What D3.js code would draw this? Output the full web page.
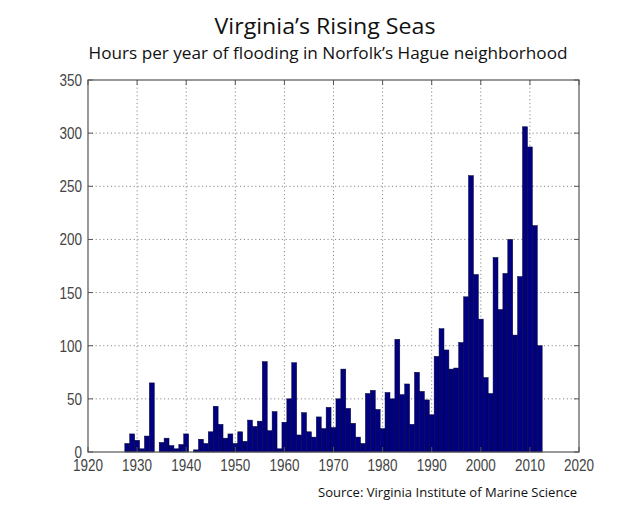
<!DOCTYPE html>
<html>
<head>
<meta charset="utf-8">
<script src="https://d3js.org/d3.v7.min.js"></script>
<style>
  body { margin: 0; background: #fff; }
  svg { display: block; background: #fff; }
  .tick-label { font-family: "Liberation Sans Narrow", "Arial Narrow", "Liberation Sans", Arial, sans-serif; font-size: 16px; fill: #444; }
  .head { font-family: "Open Sans", "Noto Sans", sans-serif; fill: #111; }
</style>
</head>
<body>
<svg id="svg" width="640" height="512"></svg>
<script>
// flooding hours per year, Norfolk Hague
var years = d3.range(1928, 2013);
var hours = [
  8, 17, 11, 3, 15, 65, 0, 9, 13, 6, 3, 7,          // 1928-1939
  17, 0, 2, 12, 8, 19, 43, 26, 13, 17,              // 1940s
  8, 19, 10, 30, 24, 29, 85, 20, 38, 3,             // 1950s
  28, 50, 84, 16, 37, 19, 14, 33, 22, 42,           // 1960s
  23, 50, 78, 41, 27, 14, 8, 55, 58, 40,            // 1970s
  22, 56, 50, 106, 54, 64, 26, 75, 57, 49,          // 1980s
  35, 90, 116, 96, 78, 79, 103, 146, 260, 167,      // 1990s
  125, 70, 55, 183, 134, 168, 200, 110, 165, 306,   // 2000s
  287, 213, 100                                     // 2010-2012
];
var xTicks = d3.range(1920, 2021, 10);
var yTicks = d3.range(0, 351, 50);

var titleText = "Virginia\u2019s Rising Seas";
var subtitleText = "Hours per year of flooding in Norfolk\u2019s Hague neighborhood";
var sourceText = "Source: Virginia Institute of Marine Science";

(function() {
  var svg = d3.select("svg");
  var left = 88, right = 579, plotTop = 80, bottom = 452;

  var x = d3.scaleLinear().domain([1920, 2020]).range([left, right]);
  var y = d3.scaleLinear().domain([0, 350]).range([bottom, plotTop]);

  // grid
  var grid = svg.append("g").attr("stroke", "#8a8a8a").attr("stroke-width", 1)
    .attr("stroke-dasharray", "1.2,2.6");
  grid.selectAll(".gx").data(xTicks.slice(1, -1)).enter().append("line")
    .attr("x1", d => x(d)).attr("x2", d => x(d)).attr("y1", plotTop).attr("y2", bottom);
  grid.selectAll(".gy").data(yTicks.slice(1, -1)).enter().append("line")
    .attr("x1", left).attr("x2", right).attr("y1", d => y(d)).attr("y2", d => y(d));

  // bars
  var data = years.map(function(yr, i) { return {year: yr, value: hours[i]}; });
  svg.append("g").selectAll("rect").data(data.filter(d => d.value > 0)).enter().append("rect")
    .attr("x", d => x(d.year - 0.5))
    .attr("width", d => x(d.year + 0.5) - x(d.year - 0.5))
    .attr("y", d => y(d.value))
    .attr("height", d => y(0) - y(d.value))
    .attr("fill", "#000080")
    .attr("stroke", "#000030")
    .attr("stroke-width", 0.5);

  // frame and inner ticks
  var frame = svg.append("g").attr("stroke", "#555").attr("fill", "none");
  frame.append("rect").attr("x", left).attr("y", plotTop)
    .attr("width", right - left).attr("height", bottom - plotTop).attr("stroke-width", 1.2);
  var tk = 5;
  xTicks.forEach(function(t) {
    frame.append("line").attr("x1", x(t)).attr("x2", x(t)).attr("y1", bottom).attr("y2", bottom - tk);
    frame.append("line").attr("x1", x(t)).attr("x2", x(t)).attr("y1", plotTop).attr("y2", plotTop + tk);
  });
  yTicks.forEach(function(t) {
    frame.append("line").attr("x1", left).attr("x2", left + tk).attr("y1", y(t)).attr("y2", y(t));
    frame.append("line").attr("x1", right).attr("x2", right - tk).attr("y1", y(t)).attr("y2", y(t));
  });

  // tick labels (narrow, MATLAB-like)
  var digitW = 7.5;
  svg.append("g").selectAll("text").data(xTicks).enter().append("text")
    .attr("class", "tick-label")
    .attr("x", d => x(d)).attr("y", bottom + 19)
    .attr("text-anchor", "middle")
    .attr("textLength", d => String(d).length * digitW).attr("lengthAdjust", "spacingAndGlyphs")
    .text(d => d);
  svg.append("g").selectAll("text").data(yTicks).enter().append("text")
    .attr("class", "tick-label")
    .attr("x", left - 6).attr("y", d => y(d) + 6)
    .attr("text-anchor", "end")
    .attr("textLength", d => String(d).length * digitW).attr("lengthAdjust", "spacingAndGlyphs")
    .text(d => d);

  // headings
  svg.append("text").attr("class", "head")
    .attr("x", 325).attr("y", 34).attr("text-anchor", "middle")
    .attr("font-size", 22)
    .attr("textLength", 221).attr("lengthAdjust", "spacingAndGlyphs")
    .text(titleText);
  svg.append("text").attr("class", "head")
    .attr("x", 328).attr("y", 59).attr("text-anchor", "middle")
    .attr("font-size", 16)
    .attr("textLength", 479).attr("lengthAdjust", "spacingAndGlyphs")
    .text(subtitleText);
  svg.append("text").attr("class", "head")
    .attr("x", 318).attr("y", 497)
    .attr("font-size", 12.5)
    .attr("textLength", 259).attr("lengthAdjust", "spacingAndGlyphs")
    .text(sourceText);
})();
</script>
</body>
</html>
